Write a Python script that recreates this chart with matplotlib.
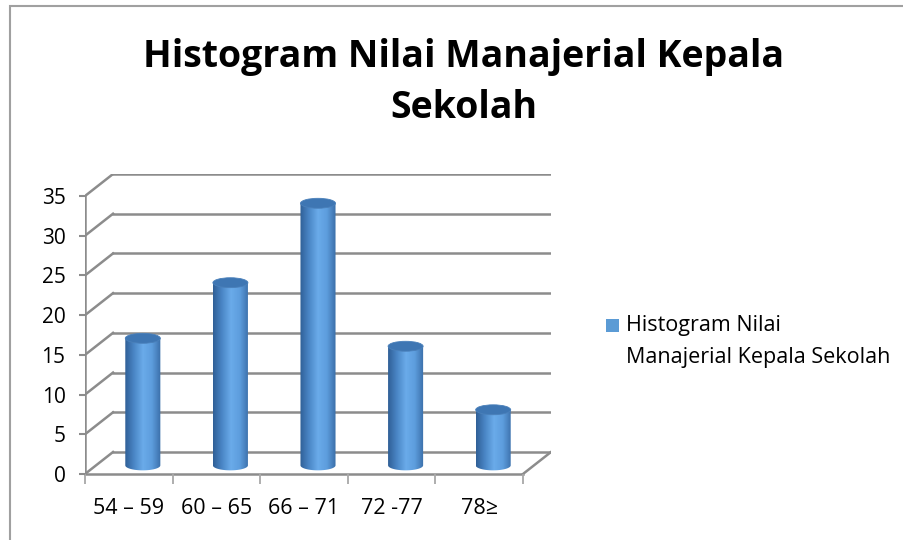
import numpy as np
import matplotlib
matplotlib.use('Agg')
import matplotlib.pyplot as plt
from matplotlib.patches import Ellipse, PathPatch, Rectangle
from matplotlib.path import Path
from matplotlib.colors import LinearSegmentedColormap

# ── Data ───────────────────────────────────────────────
categories = ['54 – 59', '60 – 65', '66 – 71', '72 -77', '78≥']
values = [16, 23, 33, 15, 7]
y_ticks = [0, 5, 10, 15, 20, 25, 30, 35]
series_name = ['Histogram Nilai', 'Manajerial Kepala Sekolah']
title = ['Histogram Nilai Manajerial Kepala', 'Sekolah']

plt.rcParams['font.family'] = ['Open Sans', 'DejaVu Sans']

# depth offset of the fake 3D box (in data units)
dx, dy = 0.32, 2.77
grid_c = '#8c8c8c'
n = len(categories)
ymax = y_ticks[-1]

fig = plt.figure(figsize=(9.04, 5.40), dpi=100)
fig.patches.append(Rectangle((10/904, -0.1), 1.2, (540 - 6)/540 + 0.1,
                             transform=fig.transFigure, fill=False,
                             edgecolor='#a0a0a0', lw=1.5))

ax = fig.add_axes([85/904, 66/540, 466/904, 300/540])
ax.set_xlim(0, n + dx)
ax.set_ylim(0, ymax + dy)
for s in ax.spines.values():
    s.set_visible(False)

# walls / grid
for t in y_ticks:
    ax.plot([dx, n + dx], [t + dy, t + dy], color=grid_c, lw=1.8, zorder=1)
    ax.plot([0, dx], [t, t + dy], color=grid_c, lw=1.8, zorder=1)
ax.plot([0, 0], [0, ymax], color=grid_c, lw=1.8, zorder=1)
ax.plot([0, n], [0, 0], color=grid_c, lw=1.8, zorder=1, clip_on=False)
ax.plot([n, n + dx], [0, dy], color=grid_c, lw=1.8, zorder=1)

ax.set_yticks(y_ticks)
ax.set_yticklabels([str(t) for t in y_ticks], fontsize=15)
ax.tick_params(axis='y', length=4, width=1.5, color=grid_c, pad=10)
ax.set_xticks(np.arange(n + 1))
ax.set_xticklabels([''] * (n + 1))
ax.set_xticks(np.arange(n) + 0.5, minor=True)
ax.set_xticklabels(categories, minor=True, fontsize=15.5)
ax.tick_params(axis='x', which='major', length=7, width=1.3, color='#a8a8a8')
ax.tick_params(axis='x', which='minor', length=0, pad=17)

# cylinders
cmap = LinearSegmentedColormap.from_list(
    'cyl', ['#2f5f96', '#4a86c6', '#6aabea', '#5d9ddd', '#3a6ea8'])
grad = np.linspace(0, 1, 256).reshape(1, -1)
w = 0.40
eh = 1.25
theta = np.linspace(np.pi, 2 * np.pi, 40)
for i, v in enumerate(values):
    cx = i + 0.5 + dx / 2
    base = dy / 2 - 0.3
    top = v + dy / 2 - 0.3
    x0, x1 = cx - w / 2, cx + w / 2
    arc = np.column_stack([cx + w / 2 * np.cos(theta),
                           base + eh / 2 * np.sin(theta)])
    verts = np.vstack([[x0, top], arc, [x1, top], [x0, top]])
    codes = [Path.MOVETO] + [Path.LINETO] * (len(verts) - 2) + [Path.CLOSEPOLY]
    body = PathPatch(Path(verts, codes), facecolor='none', edgecolor='none')
    ax.add_patch(body)
    im = ax.imshow(grad, cmap=cmap, aspect='auto',
                   extent=[x0, x1, base - eh, top], zorder=3)
    im.set_clip_path(body)
    ax.add_patch(Ellipse((cx, top), w, eh, facecolor='#3e76b3',
                         edgecolor='#4a80ba', lw=0.6, zorder=4))

ax.set_xlim(0, n + dx)
ax.set_ylim(0, ymax + dy)

# legend
fig.patches.append(Rectangle((606/904, (540 - 332)/540), 13/904, 13/540,
                             transform=fig.transFigure, facecolor='#5b9bd5',
                             edgecolor='none'))
fig.text(626/904, (540 - 326)/540, series_name[0], fontsize=15.5, va='center',
         ha='left')
fig.text(626/904, (540 - 357)/540, series_name[1], fontsize=15.5, va='center',
         ha='left')

fig.text(464/904, (540 - 57)/540, title[0], fontsize=27, fontweight='bold',
         ha='center', va='center')
fig.text(464/904, (540 - 108)/540, title[1], fontsize=27, fontweight='bold',
         ha='center', va='center')

fig.savefig('out.png', dpi=100)
